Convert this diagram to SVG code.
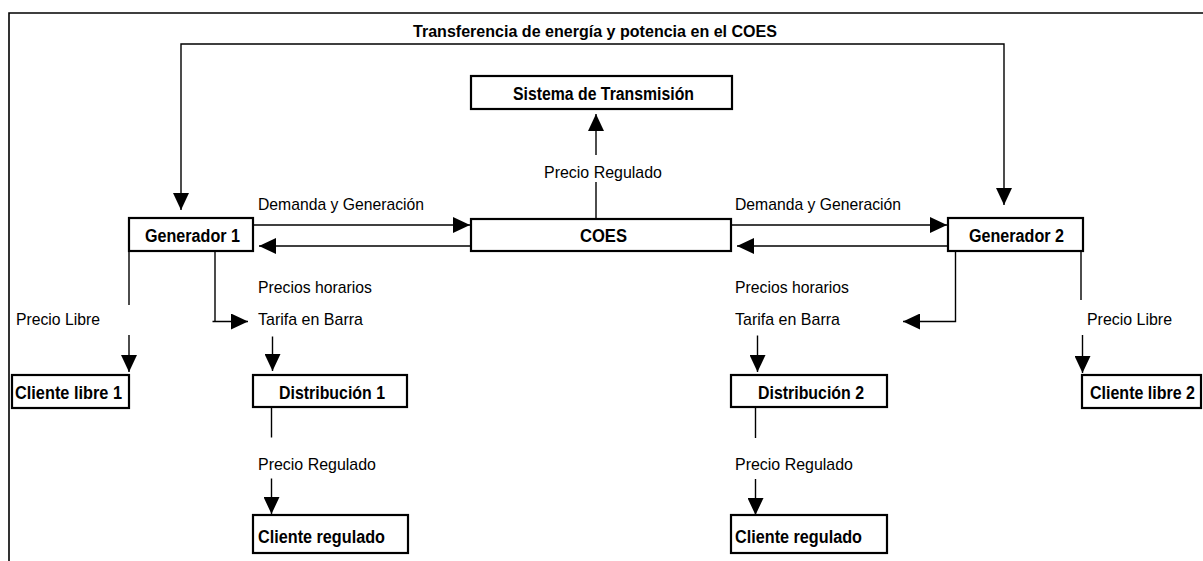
<svg xmlns="http://www.w3.org/2000/svg" width="1203" height="561" viewBox="0 0 1203 561">
<style>
.box{fill:#fff;stroke:#000;stroke-width:2.2}
.ln{fill:none;stroke:#000;stroke-width:1.4}
.frame{fill:none;stroke:#000;stroke-width:1.6}
text{font-family:"Liberation Sans",Arial,sans-serif;font-size:17px;fill:#000}
.b{font-weight:bold;font-size:18px}
.t{font-weight:bold;font-size:16.5px}
</style>
<defs>
<marker id="ah" markerUnits="userSpaceOnUse" markerWidth="18" markerHeight="16" refX="17" refY="8" orient="auto">
<path d="M0,0 L17,8 L0,16 z" fill="#000"/>
</marker>
</defs>
<rect width="1203" height="561" fill="#fff"/>
<path class="frame" d="M9,561 L9,13 L1203,13"/>
<text class="t" x="413" y="37" textLength="364" lengthAdjust="spacingAndGlyphs">Transferencia de energía y potencia en el COES</text>

<g id="connectors">
<path class="ln" d="M592,44 L181,44 L181,210" marker-end="url(#ah)"/>
<path class="ln" d="M592,44 L1004,44 L1004,205" marker-end="url(#ah)"/>
<path class="ln" d="M253,225 L470,225" marker-end="url(#ah)"/>
<path class="ln" d="M470,246 L259,246" marker-end="url(#ah)"/>
<path class="ln" d="M731,225 L947,225" marker-end="url(#ah)"/>
<path class="ln" d="M947,246 L737,246" marker-end="url(#ah)"/>
<path class="ln" d="M596,219 L596,182"/>
<path class="ln" d="M596,155 L596,114" marker-end="url(#ah)"/>
<path class="ln" d="M129,251 L129,305"/>
<path class="ln" d="M129,335 L129,372" marker-end="url(#ah)"/>
<path class="ln" d="M215,251 L215,321.5 L212.5,321.5 M213,321.5 L248,321.5" marker-end="url(#ah)"/>
<path class="ln" d="M272.5,336.5 L272.5,371" marker-end="url(#ah)"/>
<path class="ln" d="M271.5,407 L271.5,437.5"/>
<path class="ln" d="M271.5,478.5 L271.5,514" marker-end="url(#ah)"/>
<path class="ln" d="M955.5,251 L955.5,321.5 L903,321.5" marker-end="url(#ah)"/>
<path class="ln" d="M757.5,335.5 L757.5,372" marker-end="url(#ah)"/>
<path class="ln" d="M1081,252 L1081,300"/>
<path class="ln" d="M1082.5,335 L1082.5,373" marker-end="url(#ah)"/>
<path class="ln" d="M755.5,407 L755.5,438"/>
<path class="ln" d="M755.5,479 L755.5,515" marker-end="url(#ah)"/>
</g>

<g id="labels">
<text x="544" y="178" textLength="118" lengthAdjust="spacingAndGlyphs">Precio Regulado</text>
<text x="258" y="210" textLength="166" lengthAdjust="spacingAndGlyphs">Demanda y Generación</text>
<text x="735" y="210" textLength="166" lengthAdjust="spacingAndGlyphs">Demanda y Generación</text>
<text x="258" y="293" textLength="114" lengthAdjust="spacingAndGlyphs">Precios horarios</text>
<text x="258" y="325" textLength="105" lengthAdjust="spacingAndGlyphs">Tarifa en Barra</text>
<text x="735" y="293" textLength="114" lengthAdjust="spacingAndGlyphs">Precios horarios</text>
<text x="735" y="325" textLength="105" lengthAdjust="spacingAndGlyphs">Tarifa en Barra</text>
<text x="16" y="325" textLength="84" lengthAdjust="spacingAndGlyphs">Precio Libre</text>
<text x="1087" y="325" textLength="85" lengthAdjust="spacingAndGlyphs">Precio Libre</text>
<text x="258" y="470" textLength="118" lengthAdjust="spacingAndGlyphs">Precio Regulado</text>
<text x="735" y="470" textLength="118" lengthAdjust="spacingAndGlyphs">Precio Regulado</text>
</g>

<g id="sistema">
<rect class="box" x="471" y="76" width="261" height="33"/>
<text class="b" x="513" y="100" textLength="181" lengthAdjust="spacingAndGlyphs">Sistema de Transmisión</text>
</g>
<g id="generador1">
<rect class="box" x="129" y="218" width="124" height="33"/>
<text class="b" x="145" y="242" textLength="95" lengthAdjust="spacingAndGlyphs">Generador 1</text>
</g>
<g id="coes">
<rect class="box" x="471" y="219" width="260" height="32"/>
<text class="b" x="580" y="242" textLength="47" lengthAdjust="spacingAndGlyphs">COES</text>
</g>
<g id="generador2">
<rect class="box" x="948" y="218" width="135" height="33"/>
<text class="b" x="969" y="242" textLength="95" lengthAdjust="spacingAndGlyphs">Generador 2</text>
</g>
<g id="clientelibre1">
<rect class="box" x="12" y="375" width="117" height="33"/>
<text class="b" x="15" y="399" textLength="107" lengthAdjust="spacingAndGlyphs">Cliente libre 1</text>
</g>
<g id="distribucion1">
<rect class="box" x="253" y="375" width="154" height="32"/>
<text class="b" x="279" y="399" textLength="106" lengthAdjust="spacingAndGlyphs">Distribución 1</text>
</g>
<g id="distribucion2">
<rect class="box" x="731" y="375" width="156" height="32"/>
<text class="b" x="758" y="399" textLength="106" lengthAdjust="spacingAndGlyphs">Distribución 2</text>
</g>
<g id="clientelibre2">
<rect class="box" x="1082" y="375" width="119" height="33"/>
<text class="b" x="1090" y="399" textLength="105" lengthAdjust="spacingAndGlyphs">Cliente libre 2</text>
</g>
<g id="clienteregulado1">
<rect class="box" x="253" y="515" width="155" height="38"/>
<text class="b" x="258" y="543" textLength="127" lengthAdjust="spacingAndGlyphs">Cliente regulado</text>
</g>
<g id="clienteregulado2">
<rect class="box" x="731" y="515" width="156" height="38"/>
<text class="b" x="735" y="543" textLength="127" lengthAdjust="spacingAndGlyphs">Cliente regulado</text>
</g>
</svg>
